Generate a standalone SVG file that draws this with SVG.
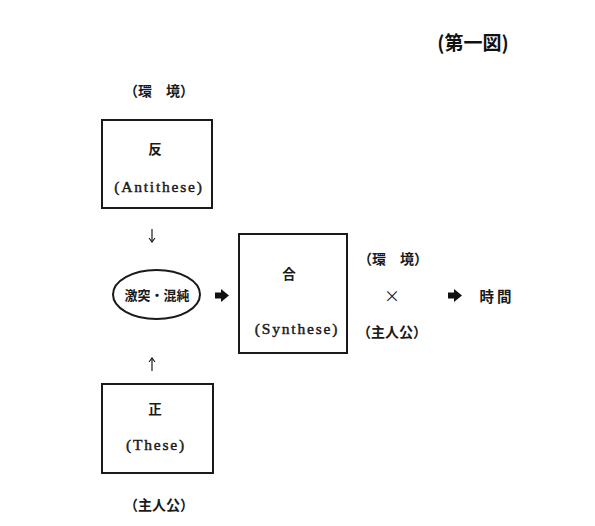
<svg xmlns="http://www.w3.org/2000/svg" width="595" height="526" viewBox="0 0 595 526">
<style>
.bg{fill:#ffffff}
.box{fill:none;stroke:#1a1a1a;stroke-width:2}
.cjk{font-family:"Noto Sans CJK JP","Noto Sans CJK SC",sans-serif;font-size:13.5px;fill:#1a1a1a;text-anchor:middle;font-weight:bold}
.lat{font-family:"Liberation Serif","Noto Sans CJK JP",serif;font-size:15.5px;fill:#1a1a1a;stroke:#1a1a1a;stroke-width:0.45;text-anchor:middle;letter-spacing:1.8px}
.title{font-family:"Noto Sans CJK JP",sans-serif;font-size:19px;font-weight:bold;fill:#111;text-anchor:middle}
.thin{stroke:#1a1a1a;stroke-width:1.2;fill:none}
.fat{fill:#111}
</style>
<defs>
<marker id="ah" markerWidth="8" markerHeight="8" refX="4" refY="4" orient="auto" markerUnits="userSpaceOnUse">
<path d="M0,1 L4,4 L0,7" fill="none" stroke="#1a1a1a" stroke-width="1.1"/>
</marker>
</defs>
<rect class="bg" x="0" y="0" width="595" height="526"/>
<text class="title" x="473" y="50">(第一図)</text>

<g id="env-top"><text class="cjk" x="159" y="96" style="font-size:14px">（環　境）</text></g>

<g id="antithese">
<rect class="box" x="102" y="120" width="110" height="88"/>
<text class="cjk" x="155" y="154">反</text>
<text class="lat" x="159" y="192">(Antithese)</text>
</g>

<g id="conflict">
<ellipse class="box" cx="156.5" cy="294.5" rx="43.5" ry="24.5"/>
<text class="cjk" x="157" y="300" style="font-size:13px">激突・混純</text>
</g>

<g id="synthese">
<rect class="box" x="239" y="234" width="108" height="119"/>
<text class="cjk" x="289" y="279">合</text>
<text class="lat" x="297" y="334">(Synthese)</text>
</g>

<g id="these">
<rect class="box" x="102" y="384" width="111" height="89"/>
<text class="cjk" x="155" y="414">正</text>
<text class="lat" x="156" y="450">(These)</text>
</g>

<g id="env-bottom"><text class="cjk" x="159" y="510" style="font-size:14px">（主人公）</text></g>

<g id="formula">
<text class="cjk" x="393" y="264" style="font-size:14px">（環　境）</text>
<text class="cjk" x="392" y="302" style="font-weight:normal;font-size:16px">×</text>
<text class="cjk" x="392" y="337" style="font-size:14px">（主人公）</text>
</g>

<g id="time"><text class="cjk" x="497" y="302" style="font-size:14.5px;letter-spacing:3px">時間</text></g>

<g id="connectors">
<line class="thin" x1="152" y1="229" x2="152" y2="242" marker-end="url(#ah)"/>
<line class="thin" x1="152" y1="371" x2="152" y2="358" marker-end="url(#ah)"/>
<path class="fat" d="M215,292.5 L221,292.5 L221,289 L229,295.5 L221,302 L221,298.5 L215,298.5 Z"/>
<path class="fat" d="M448,292.5 L454,292.5 L454,289 L462,295.5 L454,302 L454,298.5 L448,298.5 Z"/>
</g>
</svg>
